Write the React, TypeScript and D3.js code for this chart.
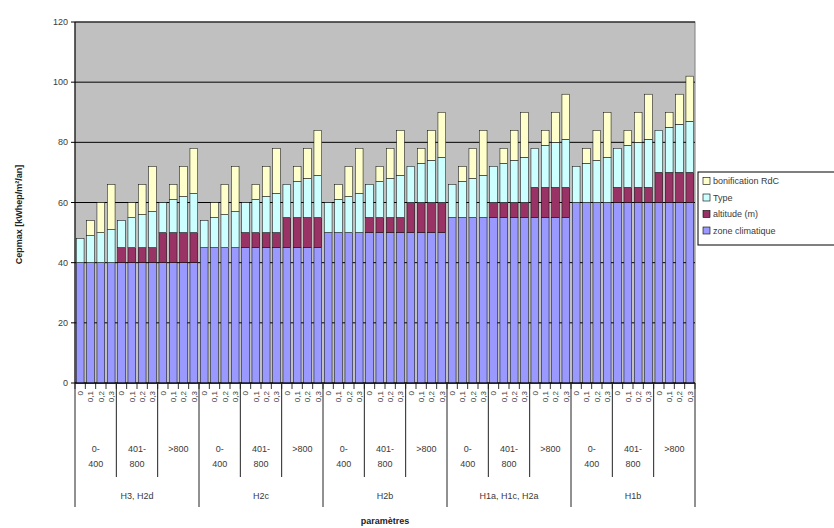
import React from "react";
import * as d3 from "d3";

// ---- data ----
const zones = ["H3, H2d", "H2c", "H2b", "H1a, H1c, H2a", "H1b"];
const altitudes = ["0-400", "401-800", ">800"];
const altitudeLines = [["0-", "400"], ["401-", "800"], [">800"]];
const barLabels = ["0", "0,1", "0,2", "0,3"];

const zoneClimatique = [
  40, 40, 40, 40, 40, 40, 40, 40, 40, 40, 40, 40,
  45, 45, 45, 45, 45, 45, 45, 45, 45, 45, 45, 45,
  50, 50, 50, 50, 50, 50, 50, 50, 50, 50, 50, 50,
  55, 55, 55, 55, 55, 55, 55, 55, 55, 55, 55, 55,
  60, 60, 60, 60, 60, 60, 60, 60, 60, 60, 60, 60,
];
const altitude = [
  0, 0, 0, 0, 5, 5, 5, 5, 10, 10, 10, 10,
  0, 0, 0, 0, 5, 5, 5, 5, 10, 10, 10, 10,
  0, 0, 0, 0, 5, 5, 5, 5, 10, 10, 10, 10,
  0, 0, 0, 0, 5, 5, 5, 5, 10, 10, 10, 10,
  0, 0, 0, 0, 5, 5, 5, 5, 10, 10, 10, 10,
];
const typeValues = [
  8, 9, 10, 11, 9, 10, 11, 12, 10, 11, 12, 13,
  9, 10, 11, 12, 10, 11, 12, 13, 11, 12, 13, 14,
  10, 11, 12, 13, 11, 12, 13, 14, 12, 13, 14, 15,
  11, 12, 13, 14, 12, 13, 14, 15, 13, 14, 15, 16,
  12, 13, 14, 15, 13, 14, 15, 16, 14, 15, 16, 17,
];
const bonificationRdC = [
  0, 5, 10, 15, 0, 5, 10, 15, 0, 5, 10, 15,
  0, 5, 10, 15, 0, 5, 10, 15, 0, 5, 10, 15,
  0, 5, 10, 15, 0, 5, 10, 15, 0, 5, 10, 15,
  0, 5, 10, 15, 0, 5, 10, 15, 0, 5, 10, 15,
  0, 5, 10, 15, 0, 5, 10, 15, 0, 5, 10, 15,
];
const yTicks = [0, 20, 40, 60, 80, 100, 120];

const seriesNames = ["zone climatique", "altitude (m)", "Type", "bonification RdC"];
const seriesColors = ["#9999FF", "#993366", "#CCFFFF", "#FFFFCC"];

// ---- layout ----
const W = 834;
const H = 528;
const left = 75;
const right = 695;
const top = 22;
const bottom = 383;
const FONT = "Liberation Sans, Arial, sans-serif";
const TXT = "#3a3a3a";

export default function App() {
  const n = zoneClimatique.length;
  const idx = d3.range(n);
  const x = d3.scaleBand<number>().domain(idx).range([left, right]).paddingInner(0.25).paddingOuter(0.125);
  const y = d3.scaleLinear().domain([0, 120]).range([bottom, top]);

  const rows = idx.map((i) => ({
    i,
    zone: zoneClimatique[i],
    alt: altitude[i],
    type: typeValues[i],
    bonif: bonificationRdC[i],
  }));
  const stack = d3.stack<any>().keys(["zone", "alt", "type", "bonif"]);
  const layers = stack(rows);

  const step = (right - left) / n;
  const perAlt = 4;
  const perZone = perAlt * altitudes.length;

  return (
    <svg
      width={W}
      height={H}
      style={{ position: "absolute", left: 0, top: 0, display: "block", background: "#fff" }}
      fontFamily={FONT}
    >
      {/* plot area */}
      <rect x={left} y={top} width={right - left} height={bottom - top} fill="#C0C0C0" stroke="#808080" strokeWidth={1} />
      {yTicks.map((t) => (
        <line key={t} x1={left} x2={right} y1={y(t)} y2={y(t)} stroke="#000" strokeWidth={1} />
      ))}

      {/* bars */}
      {layers.map((layer, li) => (
        <g key={li}>
          {layer.map((d, j) =>
            d[1] - d[0] > 0 ? (
              <rect
                key={j}
                x={x(j)}
                y={y(d[1])}
                width={x.bandwidth()}
                height={y(d[0]) - y(d[1])}
                fill={seriesColors[li]}
                stroke="#000"
                strokeWidth={0.5}
              />
            ) : null
          )}
        </g>
      ))}

      {/* y axis */}
      <line x1={left} x2={left} y1={top} y2={bottom} stroke="#000" />
      {yTicks.map((t) => (
        <g key={t}>
          <line x1={left - 4} x2={left} y1={y(t)} y2={y(t)} stroke="#000" />
          <text x={left - 7} y={y(t)} dy="0.35em" textAnchor="end" fontSize={9} fill={TXT}>
            {t}
          </text>
        </g>
      ))}
      <text
        transform={`translate(22,${(top + bottom) / 2 + 12}) rotate(-90)`}
        textAnchor="middle"
        fontSize={9}
        fontWeight="bold"
        fill="#222"
      >
        Cepmax [kWhep/m²/an]
      </text>

      {/* x axis */}
      <line x1={left} x2={right} y1={bottom} y2={bottom} stroke="#000" />
      {d3.range(n + 1).map((k) => (
        <line key={k} x1={left + k * step} x2={left + k * step} y1={bottom} y2={bottom + 6} stroke="#000" strokeWidth={0.8} />
      ))}
      {idx.map((i) => (
        <text
          key={i}
          transform={`translate(${(x(i) as number) + x.bandwidth() / 2},${bottom + 8}) rotate(-90)`}
          textAnchor="end"
          dy="0.35em"
          fontSize={8}
          fill={TXT}
        >
          {barLabels[i % perAlt]}
        </text>
      ))}
      {/* altitude / zone separators and labels */}
      {d3.range(zones.length * altitudes.length + 1).map((k) => (
        <line
          key={k}
          x1={left + k * perAlt * step}
          x2={left + k * perAlt * step}
          y1={bottom}
          y2={k % altitudes.length === 0 ? 507 : 477}
          stroke="#222"
          strokeWidth={1}
        />
      ))}
      {d3.range(zones.length * altitudes.length).map((k) => {
        const cx = left + (k + 0.5) * perAlt * step;
        const lines = altitudeLines[k % altitudes.length];
        return (
          <text key={k} x={cx} y={452} textAnchor="middle" fontSize={9} fill={TXT}>
            {lines.map((s, li) => (
              <tspan key={li} x={cx} dy={li === 0 ? 0 : 15}>
                {s}
              </tspan>
            ))}
          </text>
        );
      })}
      {zones.map((z, k) => (
        <text key={z} x={left + (k + 0.5) * perZone * step} y={499} textAnchor="middle" fontSize={9} fill={TXT}>
          {z}
        </text>
      ))}
      <text x={(left + right) / 2} y={524} textAnchor="middle" fontSize={9} fontWeight="bold" fill="#222">
        paramètres
      </text>

      {/* legend */}
      <rect x={698} y={172} width={150} height={73} fill="#fff" stroke="#000" strokeWidth={1} />
      {seriesNames
        .slice()
        .reverse()
        .map((name, k) => {
          const ci = seriesNames.length - 1 - k;
          const yy = 181 + k * 16.5;
          return (
            <g key={name}>
              <rect x={703} y={yy - 3.5} width={7} height={7} fill={seriesColors[ci]} stroke="#000" strokeWidth={0.6} />
              <text x={713} y={yy} dy="0.35em" fontSize={9} fill={TXT}>
                {name}
              </text>
            </g>
          );
        })}
    </svg>
  );
}
